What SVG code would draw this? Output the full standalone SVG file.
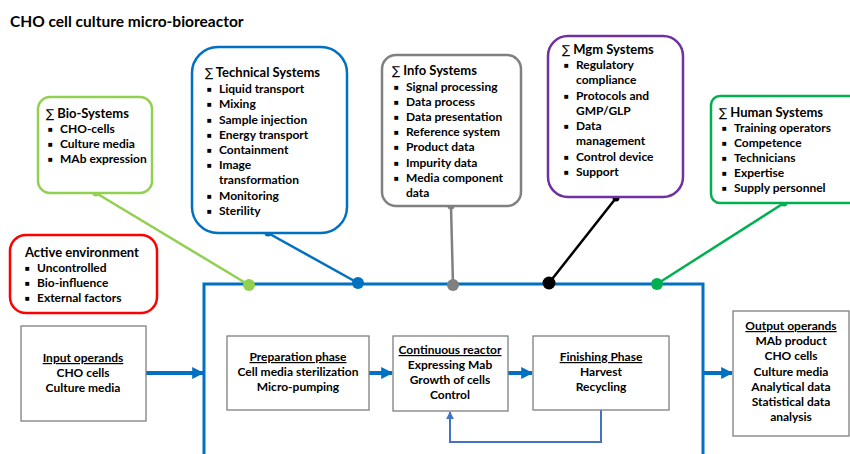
<svg xmlns="http://www.w3.org/2000/svg" width="850" height="454" viewBox="0 0 850 454">
<defs>
<style>
text{font-family:Lato,"Liberation Sans",sans-serif;font-weight:bold;font-size:12px;fill:#000}
.t{font-size:15.5px}
.h{font-size:13px}
.s{font-weight:normal;font-family:"DejaVu Sans",sans-serif;font-size:12px}
.c{text-anchor:middle}
.u{text-decoration:underline}
.bl{font-size:8px}
.sys{fill:#fff;stroke-width:2.5}
.box{fill:#fff;stroke:#7f7f7f;stroke-width:1.3}
.flow{stroke:#0070C0;stroke-width:4;fill:none}
</style>
<marker id="ah" viewBox="0 0 10 10" refX="9" refY="5" markerWidth="3" markerHeight="3" orient="auto" markerUnits="strokeWidth"><path d="M0,0L10,5L0,10z" fill="#0070C0"/></marker>
<marker id="ah2" viewBox="0 0 10 10" refX="9" refY="5" markerWidth="4" markerHeight="4" orient="auto" markerUnits="strokeWidth"><path d="M0,0L10,5L0,10z" fill="#4472C4"/></marker>
</defs>
<rect width="850" height="454" fill="#fff"/>
<text class="t" x="10" y="27">CHO cell culture micro-bioreactor</text>

<g id="connectors">
<path d="M204,454V284H703V454" stroke="#0070C0" stroke-width="3" fill="none"/>
<line x1="96" y1="193" x2="249" y2="285" stroke="#92D050" stroke-width="2.5"/>
<line x1="268" y1="233" x2="358" y2="283" stroke="#0070C0" stroke-width="2.5"/>
<line x1="451" y1="206" x2="453" y2="285" stroke="#808080" stroke-width="2.5"/>
<line x1="616" y1="198" x2="549" y2="283" stroke="#000" stroke-width="2.5"/>
<line x1="784" y1="203" x2="657" y2="284" stroke="#00B050" stroke-width="2.5"/>
<circle cx="96" cy="193" r="3.5" fill="#92D050"/>
<circle cx="249" cy="285" r="6" fill="#92D050"/>
<circle cx="268" cy="233" r="3.5" fill="#0070C0"/>
<circle cx="358" cy="283" r="6" fill="#0070C0"/>
<circle cx="451" cy="206" r="3.5" fill="#808080"/>
<circle cx="453" cy="285" r="6" fill="#808080"/>
<circle cx="616" cy="198" r="3.5" fill="#000"/>
<circle cx="549" cy="283" r="6.5" fill="#000"/>
<circle cx="784" cy="203" r="3.5" fill="#00B050"/>
<circle cx="657" cy="284" r="6" fill="#00B050"/>
<line x1="146" y1="373" x2="203" y2="373" class="flow" marker-end="url(#ah)"/>
<line x1="369" y1="373" x2="392" y2="373" class="flow" marker-end="url(#ah)"/>
<line x1="508" y1="373" x2="532" y2="373" class="flow" marker-end="url(#ah)"/>
<line x1="703" y1="373" x2="732" y2="373" class="flow" marker-end="url(#ah)"/>
<path d="M601,410V442H450V412" stroke="#4472C4" stroke-width="2" fill="none" marker-end="url(#ah2)"/>
</g>

<g id="bio">
<rect x="38" y="97" width="114" height="96" rx="12" class="sys" stroke="#92D050"/>
<text class="h" x="46" y="118"><tspan class="s">∑</tspan> Bio-Systems</text>
<text class="bl" x="48" y="132">■</text><text x="60" y="133">CHO-cells</text>
<text class="bl" x="48" y="147">■</text><text x="60" y="148">Culture media</text>
<text class="bl" x="48" y="162">■</text><text x="60" y="163">MAb expression</text>
</g>

<g id="active">
<rect x="10" y="235" width="147" height="78" rx="16" class="sys" stroke="#FF0000"/>
<text class="h" x="25" y="257">Active environment</text>
<text class="bl" x="25" y="271">■</text><text x="37" y="272">Uncontrolled</text>
<text class="bl" x="25" y="286">■</text><text x="37" y="287">Bio-influence</text>
<text class="bl" x="25" y="301">■</text><text x="37" y="302">External factors</text>
</g>

<g id="technical">
<rect x="192" y="47" width="155" height="186" rx="26" class="sys" stroke="#0070C0"/>
<text class="h" x="205" y="77"><tspan class="s">∑</tspan> Technical  Systems</text>
<text class="bl" x="207" y="92">■</text><text x="219" y="93">Liquid transport</text>
<text class="bl" x="207" y="107">■</text><text x="219" y="108">Mixing</text>
<text class="bl" x="207" y="123">■</text><text x="219" y="124">Sample injection</text>
<text class="bl" x="207" y="138">■</text><text x="219" y="139">Energy transport</text>
<text class="bl" x="207" y="153">■</text><text x="219" y="154">Containment</text>
<text class="bl" x="207" y="168">■</text><text x="219" y="169">Image</text>
<text x="219" y="184">transformation</text>
<text class="bl" x="207" y="199">■</text><text x="219" y="200">Monitoring</text>
<text class="bl" x="207" y="214">■</text><text x="219" y="215">Sterility</text>
</g>

<g id="info">
<rect x="382" y="55" width="139" height="151" rx="14" class="sys" stroke="#808080"/>
<text class="h" x="392" y="75"><tspan class="s">∑</tspan> Info Systems</text>
<text class="bl" x="394" y="90">■</text><text x="406" y="91">Signal processing</text>
<text class="bl" x="394" y="105">■</text><text x="406" y="106">Data process</text>
<text class="bl" x="394" y="120">■</text><text x="406" y="121">Data presentation</text>
<text class="bl" x="394" y="135">■</text><text x="406" y="136">Reference system</text>
<text class="bl" x="394" y="150">■</text><text x="406" y="151">Product data</text>
<text class="bl" x="394" y="166">■</text><text x="406" y="167">Impurity data</text>
<text class="bl" x="394" y="181">■</text><text x="406" y="182">Media component</text>
<text x="406" y="197">data</text>
</g>

<g id="mgm">
<rect x="548" y="36" width="135" height="161" rx="20" class="sys" stroke="#7030A0"/>
<text class="h" x="562" y="54"><tspan class="s">∑</tspan> Mgm Systems</text>
<text class="bl" x="564" y="68">■</text><text x="576" y="69">Regulatory</text>
<text x="576" y="84">compliance</text>
<text class="bl" x="564" y="99">■</text><text x="576" y="100">Protocols and</text>
<text x="576" y="115">GMP/GLP</text>
<text class="bl" x="564" y="129">■</text><text x="576" y="130">Data</text>
<text x="576" y="145">management</text>
<text class="bl" x="564" y="160">■</text><text x="576" y="161">Control device</text>
<text class="bl" x="564" y="175">■</text><text x="576" y="176">Support</text>
</g>

<g id="human">
<rect x="711" y="96" width="150" height="107" rx="9" class="sys" stroke="#00B050"/>
<text class="h" x="719" y="117"><tspan class="s">∑</tspan> Human  Systems</text>
<text class="bl" x="722" y="131">■</text><text x="734" y="132">Training operators</text>
<text class="bl" x="722" y="146">■</text><text x="734" y="147">Competence</text>
<text class="bl" x="722" y="161">■</text><text x="734" y="162">Technicians</text>
<text class="bl" x="722" y="176">■</text><text x="734" y="177">Expertise</text>
<text class="bl" x="722" y="191">■</text><text x="734" y="192">Supply personnel</text>
</g>

<g id="input">
<rect x="21" y="326" width="125" height="95" class="box"/>
<text class="c u" x="83" y="362">Input operands</text>
<text class="c" x="83" y="377">CHO cells</text>
<text class="c" x="83" y="392">Culture media</text>
</g>

<g id="prep">
<rect x="227" y="336" width="142" height="74" class="box"/>
<text class="c u" x="298" y="361">Preparation phase</text>
<text class="c" x="298" y="376">Cell media sterilization</text>
<text class="c" x="298" y="391">Micro-pumping</text>
</g>

<g id="reactor">
<rect x="393" y="336" width="115" height="75" class="box"/>
<text class="c u" x="450" y="354">Continuous reactor</text>
<text class="c" x="450" y="369">Expressing Mab</text>
<text class="c" x="450" y="384">Growth of cells</text>
<text class="c" x="450" y="399">Control</text>
</g>

<g id="finish">
<rect x="533" y="336" width="136" height="74" class="box"/>
<text class="c u" x="601" y="361">Finishing Phase</text>
<text class="c" x="601" y="376">Harvest</text>
<text class="c" x="601" y="391">Recycling</text>
</g>

<g id="output">
<rect x="733" y="311" width="116" height="125" class="box"/>
<text class="c u" x="791" y="330">Output operands</text>
<text class="c" x="791" y="345">MAb product</text>
<text class="c" x="791" y="360">CHO cells</text>
<text class="c" x="791" y="376">Culture media</text>
<text class="c" x="791" y="391">Analytical data</text>
<text class="c" x="791" y="406">Statistical data</text>
<text class="c" x="791" y="421">analysis</text>
</g>
</svg>
